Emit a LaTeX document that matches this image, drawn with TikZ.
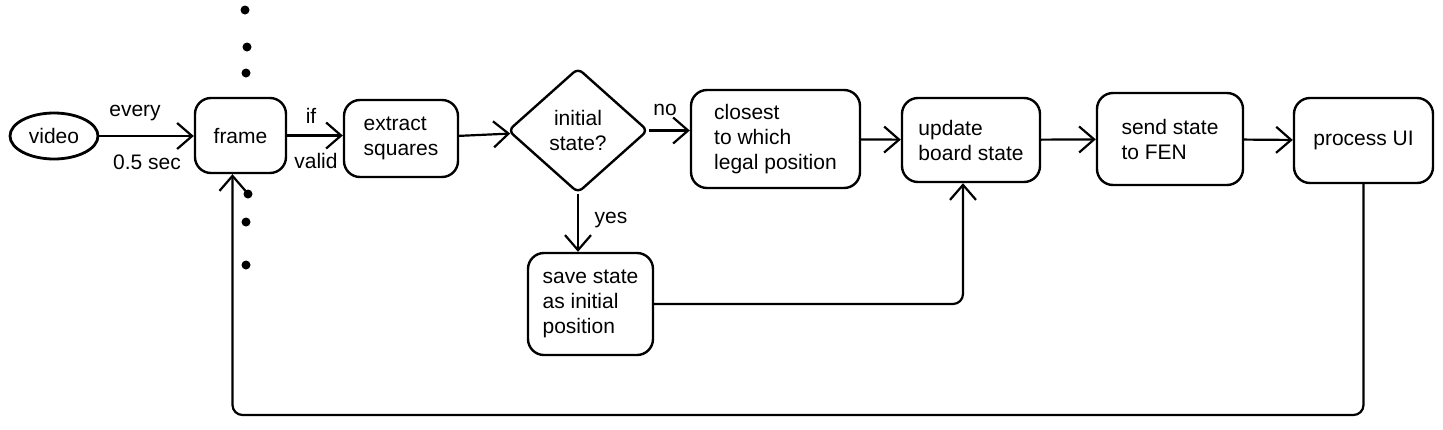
\documentclass[tikz,border=0pt]{standalone}
\usepackage{fontspec}
\setmainfont{Liberation Sans}
\usetikzlibrary{shapes.geometric,arrows.meta}
\begin{document}
\begin{tikzpicture}[x=1pt,y=-1pt,
  every node/.style={font=\fontsize{21}{25}\selectfont},
  box/.style={draw,line width=2.4pt,rounded corners=16pt,inner sep=0pt,align=left},
  arr/.style={line width=2.2pt,-{Straight Barb[length=15pt,width=26pt,line width=2.2pt]}},
  lbl/.style={inner sep=0pt},
  dotn/.style={circle,fill,inner sep=0pt,minimum size=9pt}]
\useasboundingbox (0,0) rectangle (1443,429);
% nodes
\node[draw,ellipse,line width=2.8pt,inner sep=0pt,minimum width=88pt,minimum height=46pt] (video) at (54,136) {video};
\node[box,minimum width=91pt,minimum height=75pt] (frame) at (240.5,135.5) {frame};
\node[box,minimum width=114pt,minimum height=77pt] (extract) at (401,138.5) {extract\\squares};
\node[draw,diamond,line width=2.4pt,inner sep=0pt,minimum width=140pt,minimum height=125pt,rounded corners=6pt,align=center] (dec) at (578,130.5) {initial\\state?};
\node[box,minimum width=169pt,minimum height=98pt] (closest) at (775.5,139) {closest\\to which\\legal position};
\node[box,minimum width=138pt,minimum height=84pt] (update) at (971,140) {update\\board state};
\node[box,minimum width=146pt,minimum height=92pt] (send) at (1170,139) {send state\\to FEN};
\node[box,minimum width=139pt,minimum height=85pt] (process) at (1363.5,140.5) {process UI};
\node[box,minimum width=125pt,minimum height=102pt] (save) at (590.5,304) {save state\\as initial\\position};
% labels
\node[lbl] (l1) at (135,113) {every};
\node[lbl] (l2) at (147,162) {0.5 sec};
\node[lbl] (l3) at (311,116) {if};
\node[lbl] (l4) at (316,161) {valid};
\node[lbl] (l5) at (665,110) {no};
\node[lbl] (l6) at (611,220) {yes};
% dots
\node[dotn] (d1) at (245,10) {};
\node[dotn] (d2) at (247,47) {};
\node[dotn] (d3) at (246,73) {};
\node[dotn] (d4) at (248,194) {};
\node[dotn] (d5) at (246,222) {};
\node[dotn] (d6) at (246,265) {};
% connectors
\draw[arr] (video) -- (frame.west |- video);
\draw[arr] (frame.east) -- (frame.east -| extract.west);
\draw[arr] (extract) -- (dec);
\draw[arr] (dec.east) -- (dec.east -| closest.west);
\draw[arr] (dec.south) -- (dec.south |- save.north);
\draw[arr] (closest) -- (update);
\draw[arr] (update) -- (send);
\draw[arr] (send) -- (process);
\draw[arr,rounded corners=10pt] (save.east) -| ([xshift=-8pt]update.south);
\coordinate (loop) at (800,415);
\draw[arr,rounded corners=10pt] (process.south) |- (loop) -| ([xshift=-8pt]frame.south);
\end{tikzpicture}
\end{document}
